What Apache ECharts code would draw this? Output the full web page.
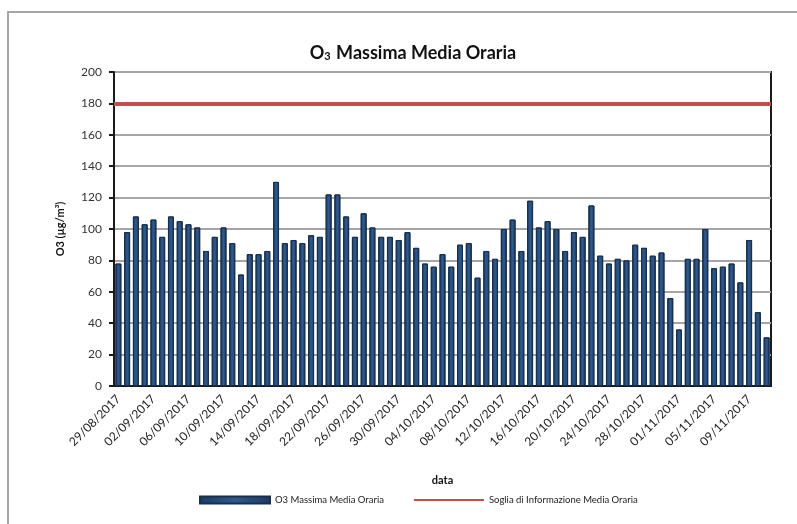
<!DOCTYPE html>
<html>
<head>
<meta charset="utf-8">
<script src="https://cdn.jsdelivr.net/npm/echarts@6/dist/echarts.min.js"></script>
<style>
  html, body { margin: 0; padding: 0; background: #fff; }
  #chart { width: 797px; height: 524px; }
</style>
</head>
<body>
<div id="chart"></div>
<script>
// giorni dal 29/08/2017 al 11/11/2017
const dates = [
  '29/08/2017', '30/08/2017', '31/08/2017',
  '01/09/2017', '02/09/2017', '03/09/2017', '04/09/2017', '05/09/2017', '06/09/2017', '07/09/2017',
  '08/09/2017', '09/09/2017', '10/09/2017', '11/09/2017', '12/09/2017', '13/09/2017', '14/09/2017',
  '15/09/2017', '16/09/2017', '17/09/2017', '18/09/2017', '19/09/2017', '20/09/2017', '21/09/2017',
  '22/09/2017', '23/09/2017', '24/09/2017', '25/09/2017', '26/09/2017', '27/09/2017', '28/09/2017',
  '29/09/2017', '30/09/2017',
  '01/10/2017', '02/10/2017', '03/10/2017', '04/10/2017', '05/10/2017', '06/10/2017', '07/10/2017',
  '08/10/2017', '09/10/2017', '10/10/2017', '11/10/2017', '12/10/2017', '13/10/2017', '14/10/2017',
  '15/10/2017', '16/10/2017', '17/10/2017', '18/10/2017', '19/10/2017', '20/10/2017', '21/10/2017',
  '22/10/2017', '23/10/2017', '24/10/2017', '25/10/2017', '26/10/2017', '27/10/2017', '28/10/2017',
  '29/10/2017', '30/10/2017', '31/10/2017',
  '01/11/2017', '02/11/2017', '03/11/2017', '04/11/2017', '05/11/2017', '06/11/2017', '07/11/2017',
  '08/11/2017', '09/11/2017', '10/11/2017', '11/11/2017'
]

// O3 massima media oraria (µg/m3)
const o3Max = [
  78, 98, 108, 103, 106, 95, 108, 105, 103, 101,
  86, 95, 101, 91, 71, 84, 84, 86, 130, 91,
  93, 91, 96, 95, 122, 122, 108, 95, 110, 101,
  95, 95, 93, 98, 88, 78, 76, 84, 76, 90,
  91, 69, 86, 81, 100, 106, 86, 118, 101, 105,
  100, 86, 98, 95, 115, 83, 78, 81, 80, 90,
  88, 83, 85, 56, 36, 81, 81, 100, 75, 76,
  78, 66, 93, 47, 31
]

const sogliaInfo = 180
const yTicks = { min: 0, max: 200, step: 20 }

const barEchart = echarts.init(document.getElementById('chart'))

let option = {
  backgroundColor: '#ffffff',
  textStyle: { fontFamily: 'Lato, "Open Sans", sans-serif' },
  graphic: [{
    type: 'rect',
    z: -10,
    shape: { x: 8, y: 12, width: 900, height: 600 },
    style: { fill: 'none', stroke: '#a6a6a6', lineWidth: 2 }
  }],
  title: {
    text: '{o|O}{s|3}{o| Massima Media Oraria}',
    left: 408,
    top: 39,
    textAlign: 'center',
    textStyle: {
      rich: {
        o: { fontSize: 18, fontWeight: 'bold', color: '#111', fontFamily: 'Lato, sans-serif' },
        s: { fontSize: 11, fontWeight: 'bold', color: '#111', verticalAlign: 'bottom', padding: [7, 1, 0, 0], fontFamily: 'Lato, sans-serif' }
      }
    }
  },
  grid: {
    left: 114,
    right: 26,
    top: 72,
    bottom: 138,
    show: true,
    borderColor: '#1a1a1a',
    borderWidth: 2
  },
  legend: {
    left: 194,
    top: 490,
    itemWidth: 70,
    itemHeight: 7,
    itemGap: 29,
    textStyle: { fontSize: 9.5, color: '#222' },
    data: [
      { name: 'O3 Massima Media Oraria', icon: 'rect' },
      { name: 'Soglia di Informazione Media Oraria', itemStyle: { opacity: 0 } }
    ]
  },
  xAxis: {
    type: 'category',
    data: dates,
    name: 'data',
    nameLocation: 'middle',
    nameGap: 89,
    nameTextStyle: { fontSize: 11, fontWeight: 'bold', color: '#111' },
    axisLine: { lineStyle: { color: '#1a1a1a', width: 2 } },
    axisTick: { show: false },
    axisLabel: {
      interval: 3,
      rotate: 45,
      fontSize: 12,
      color: '#222',
      margin: 11
    }
  },
  yAxis: {
    type: 'value',
    min: yTicks.min,
    max: yTicks.max,
    interval: yTicks.step,
    name: 'O3 (µg/m³)',
    nameLocation: 'middle',
    nameGap: 48,
    nameTextStyle: { fontSize: 11, fontWeight: 'bold', color: '#111' },
    axisLine: { show: true, lineStyle: { color: '#1a1a1a', width: 2 } },
    axisTick: { show: true, length: 5, lineStyle: { color: '#1a1a1a', width: 2 } },
    axisLabel: { fontSize: 12, color: '#333', margin: 12 },
    splitLine: { lineStyle: { color: '#a6a6a6', width: 2 } }
  },
  series: [
    {
      name: 'O3 Massima Media Oraria',
      type: 'bar',
      barCategoryGap: '32%',
      data: o3Max,
      itemStyle: {
        color: new echarts.graphic.LinearGradient(0, 0, 1, 0, [
          { offset: 0, color: '#1d3a60' },
          { offset: 0.5, color: '#2f5a8e' },
          { offset: 1, color: '#1d3a60' }
        ]),
        borderColor: '#16304f',
        borderWidth: 1
      }
    },
    {
      name: 'Soglia di Informazione Media Oraria',
      type: 'line',
      data: [],
      symbol: 'none',
      lineStyle: { color: '#c0504d', width: 3 },
      itemStyle: { color: '#c0504d' },
      markLine: {
        silent: true,
        symbol: 'none',
        label: { show: false },
        lineStyle: { color: '#c0504d', width: 4, type: 'solid' },
        data: [{ yAxis: sogliaInfo }]
      }
    }
  ]
}

barEchart.setOption(option)
</script>
</body>
</html>
